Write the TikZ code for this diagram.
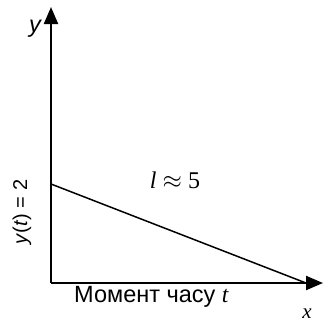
\documentclass[tikz,border=0pt]{standalone}
\usepackage{fontspec}
\setmainfont{Liberation Serif}
\setsansfont{Liberation Sans}
\usetikzlibrary{arrows.meta}
\begin{document}
\begin{tikzpicture}[x=1pt,y=-1pt,
  axis/.style={line width=2.2pt,-{Triangle[length=17pt,width=14pt]}},
  lbl/.style={inner sep=0pt,font=\sffamily\fontsize{23.5}{26}\selectfont},
  mth/.style={inner sep=0pt,font=\rmfamily\fontsize{24}{26}\selectfont}]
\useasboundingbox (0,0) rectangle (326,322);
\coordinate (O) at (51,283);
\coordinate (Y) at (51,7);
\coordinate (X) at (323,283);
\coordinate (A) at (51,184);
\coordinate (B) at (306,283);
\draw[line width=1.5pt] (A) -- (B);
\draw[axis] (O) -- (Y);
\draw[axis] (O) -- (X);
\node[lbl,anchor=base] (ylab) at (35,32) {\itshape y};
\node[lbl,rotate=90,font=\sffamily\fontsize{20}{22}\selectfont] (yt) at (22,212) {\textit{y}(\textit{t}) = 2};
\node[mth] (l) at (175,180) {\textit{l} $\approx$ 5};
\node[lbl,anchor=base west] (m) at (74,302) {Момент часу \rmfamily\itshape t};
\node[mth,anchor=base,font=\rmfamily\fontsize{21}{23}\selectfont] (xlab) at (307,318) {\textit{x}};
\end{tikzpicture}
\end{document}
